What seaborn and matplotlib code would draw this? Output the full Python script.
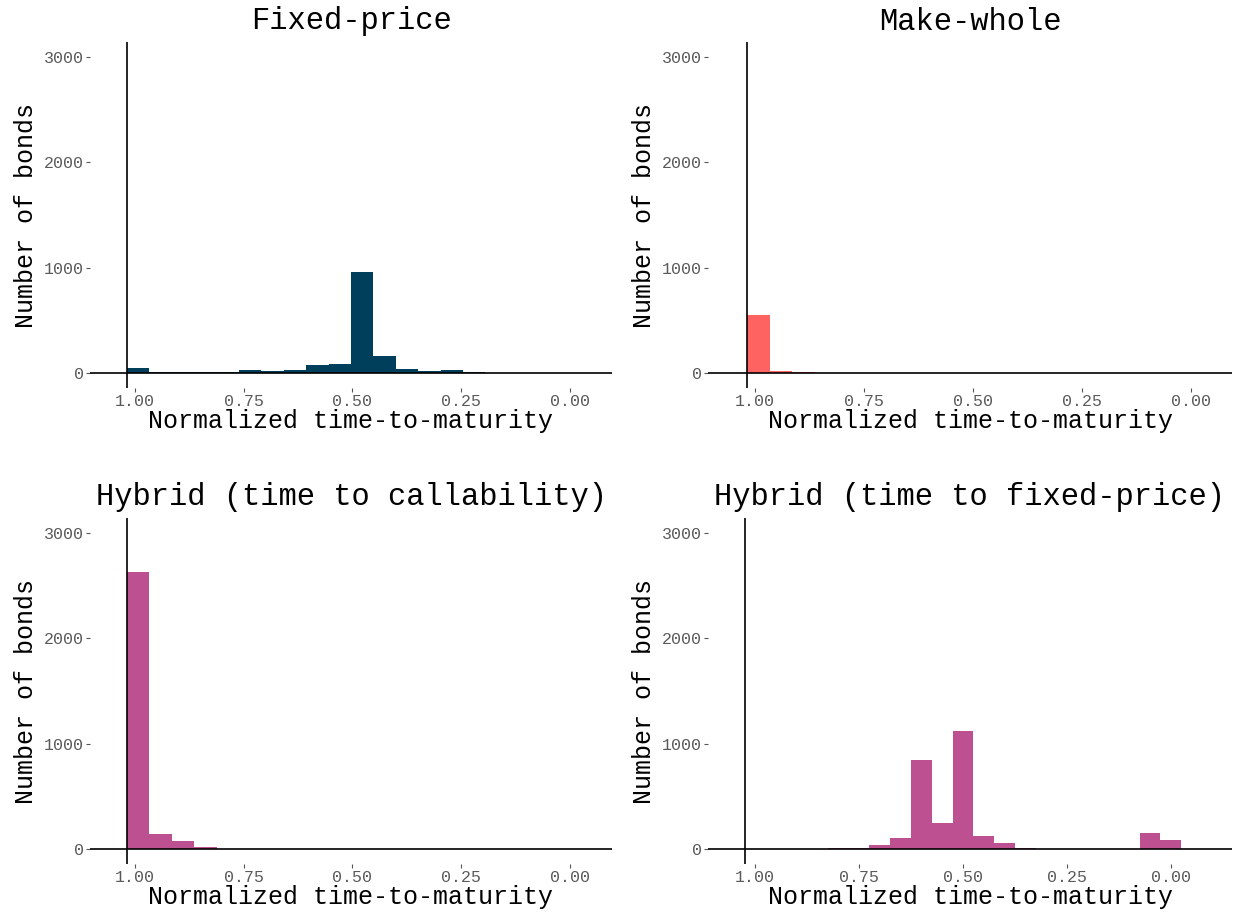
import numpy as np
import pandas as pd
import matplotlib
matplotlib.use("Agg")
import matplotlib.pyplot as plt
import seaborn as sns

sns.set_style("white")
plt.rcParams['font.family'] = ['Liberation Mono', 'DejaVu Sans Mono']
plt.rcParams['text.color'] = 'black'
plt.rcParams['axes.labelcolor'] = 'black'

# ---- data ----
titles = ["Fixed-price", "Make-whole",
          "Hybrid (time to callability)", "Hybrid (time to fixed-price)"]
colors = ["#003f5c", "#ff6361", "#bc5090", "#bc5090"]

# bin centres (normalized time-to-maturity) for panels 1-3, bin width 0.0515
centers_a = [0.992, 0.941, 0.889, 0.838, 0.786, 0.735, 0.683, 0.632, 0.580, 0.529,
             0.477, 0.426, 0.374, 0.323, 0.271, 0.220, 0.168, 0.117, 0.065, 0.014]
width_a = 0.0515
# bin centres for panel 4, bin width 0.05
centers_b = [1.00, 0.95, 0.90, 0.85, 0.80, 0.75, 0.70, 0.65, 0.60, 0.55, 0.50,
             0.45, 0.40, 0.35, 0.30, 0.25, 0.20, 0.15, 0.10, 0.05, 0.00]
width_b = 0.05

counts_fixed = [47, 8, 8, 5, 8, 31, 19, 31, 79, 88, 959, 161, 41, 19, 31, 8, 3, 2, 2, 1]
counts_make = [553, 22, 6, 0, 0, 0, 0, 0, 0, 0, 0, 0, 0, 0, 0, 0, 0, 0, 0, 0]
counts_hyb_call = [2627, 140, 73, 19, 0, 0, 0, 0, 0, 0, 0, 0, 0, 0, 0, 0, 0, 0, 0, 0]
counts_hyb_fixed = [0, 0, 0, 0, 8, 8, 36, 107, 845, 247, 1120, 123, 55, 6,
                    0, 0, 0, 0, 0, 152, 87]

x_ticks = [1.00, 0.75, 0.50, 0.25, 0.00]
x_ticklabels = ["1.00", "0.75", "0.50", "0.25", "0.00"]
y_ticks = [0, 1000, 2000, 3000]
y_ticklabels = ["0", "1000", "2000", "3000"]

panels = [
    (centers_a, width_a, counts_fixed, (1.103, -0.097)),
    (centers_a, width_a, counts_make, (1.108, -0.094)),
    (centers_a, width_a, counts_hyb_call, (1.103, -0.097)),
    (centers_b, width_b, counts_hyb_fixed, (1.113, -0.147)),
]

W, H = 1242, 915
fig = plt.figure(figsize=(W / 100, H / 100), dpi=100)
boxes = [(90, 42, 612, 388), (708, 42, 1232, 388),
         (90, 518, 612, 864), (708, 518, 1232, 864)]

for i, ((cent, w, cnt, xl), box) in enumerate(zip(panels, boxes)):
    x0, y0, x1, y1 = box
    ax = fig.add_axes([x0 / W, 1 - y1 / H, (x1 - x0) / W, (y1 - y0) / H])
    c = np.asarray(cent, dtype=float)
    edges = np.concatenate([[c[0] + w / 2], (c[:-1] + c[1:]) / 2, [c[-1] - w / 2]])
    df = pd.DataFrame({"x": c, "n": np.asarray(cnt, dtype=float)})
    sns.histplot(data=df, x="x", weights="n", bins=[float(e) for e in np.sort(edges)],
                 ax=ax, color=colors[i], alpha=1, linewidth=0)
    ax.axhline(0, color="black", lw=1.2, zorder=3)
    ax.axvline(edges[0], color="black", lw=1.2, zorder=3)
    ax.set_xlim(*xl)
    ax.set_ylim(-143, 3143)
    for s in ax.spines.values():
        s.set_visible(False)
    ax.set_xticks(x_ticks)
    ax.set_xticklabels(x_ticklabels)
    ax.set_yticks(y_ticks)
    ax.set_yticklabels(y_ticklabels)
    ax.tick_params(axis="both", which="both", direction="out", length=3,
                   width=0.8, color="#555555", labelcolor="#5a5a5a",
                   labelsize=12, pad=1.5, bottom=True, left=True)
    ax.set_xlabel("Normalized time-to-maturity", fontsize=18, labelpad=0)
    ax.set_ylabel("Number of bonds", fontsize=18, labelpad=4)
    ax.set_title(titles[i], fontsize=22, pad=9, color="black")
    ax.grid(False)
    ax.set_facecolor("white")

fig.savefig("out.png", dpi=100, facecolor="white")
